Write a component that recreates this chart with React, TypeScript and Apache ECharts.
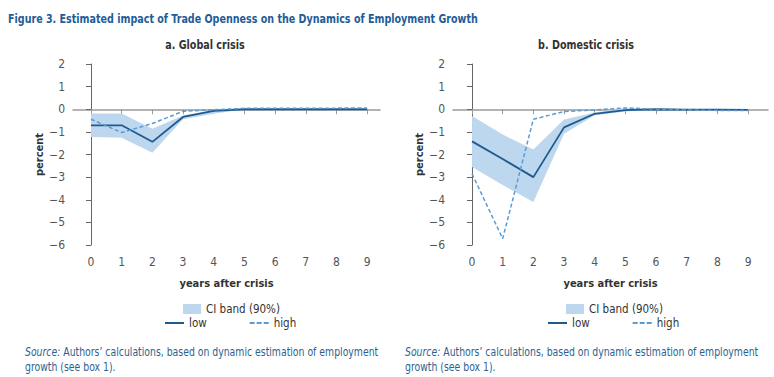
import React, { useEffect, useRef } from 'react';
import * as echarts from 'echarts';

// ---- data ----
const years = [0, 1, 2, 3, 4, 5, 6, 7, 8, 9];

const globalLow = [-0.71, -0.71, -1.44, -0.34, -0.07, 0, 0, 0, 0, 0];
const globalHigh = [-0.44, -1.03, -0.63, -0.09, -0.02, 0.04, 0.04, 0.04, 0.05, 0.06];
const globalCIUpper = [-0.19, -0.19, -0.86, -0.28, -0.03, 0, 0, 0, 0, 0];
const globalCILower = [-1.23, -1.26, -1.92, -0.44, -0.2, 0, 0, 0, 0, 0];

const domesticLow = [-1.42, -2.2, -3.0, -0.8, -0.2, -0.04, 0, -0.02, -0.02, -0.03];
const domesticHigh = [-2.85, -5.72, -0.44, -0.1, -0.03, 0.06, 0, -0.03, -0.05, -0.06];
const domesticCIUpper = [-0.3, -1.12, -1.78, -0.45, -0.14, 0.06, 0, 0, 0, 0];
const domesticCILower = [-2.55, -3.35, -4.1, -1.08, -0.27, -0.1, 0, 0, 0, 0];

const titleText = 'Figure 3. Estimated impact of Trade Openness on the Dynamics of Employment Growth';
const panelTitles = ['a. Global crisis', 'b. Domestic crisis'];
const xAxisName = 'years after crisis';
const yAxisName = 'percent';
const bandName = 'CI band (90%)';
const lowName = 'low';
const highName = 'high';
const sourceText = '{i|Source:} Authors\u2019 calculations, based on dynamic estimation of employment\ngrowth (see box 1).';

// ---- styles ----
const FONT = "'DejaVu Sans Condensed', 'Liberation Sans', sans-serif";
const BAND = '#bdd7ee';
const LOW = '#1f5a8f';
const HIGH = '#5b9bd5';
const BLUE_TEXT = '#1f5c99';
const SRC_TEXT = '#2e5f8f';

const ICON_SOLID = 'path://M0,0H19V2H0Z';
const ICON_DASH = 'path://M0,0H5V2H0ZM7,0H12V2H7ZM14,0H19V2H14Z';

const fmtMinus = (v: number) => (v < 0 ? '\u2212' + Math.abs(v) : String(v));

const panels = [
  { low: globalLow, high: globalHigh, up: globalCIUpper, lo: globalCILower, left: 73, width: 307, min: -0.587, max: 9.42, titleX: 205, legendBand: 183, legendLines: 165, srcX: 25 },
  { low: domesticLow, high: domesticHigh, up: domesticCIUpper, lo: domesticCILower, left: 453, width: 315, min: -0.62, max: 9.65, titleX: 586, legendBand: 566, legendLines: 548, srcX: 405 },
];

function buildOption() {
  const grid: any[] = [];
  const xAxis: any[] = [];
  const yAxis: any[] = [];
  const series: any[] = [];
  const legend: any[] = [];
  const graphic: any[] = [
    {
      type: 'text', x: 8, y: 12, scaleX: 0.85,
      style: { text: titleText, fontFamily: FONT, fontSize: 12.5, fontWeight: 'bold', fill: BLUE_TEXT },
    },
  ];

  panels.forEach((p, idx) => {
    grid.push({ left: p.left, top: 64, width: p.width, height: 181, containLabel: false });
    // zero line with ticks
    xAxis.push({
      type: 'value', gridIndex: idx, min: p.min, max: p.max,
      splitLine: { show: false },
      axisLine: { show: true, onZero: true, lineStyle: { color: '#9a9a9a', width: 1.5 } },
      axisTick: { show: true, length: 5, customValues: years, lineStyle: { color: '#9a9a9a', width: 1 } },
      axisLabel: { show: false },
    });
    // bottom labels
    xAxis.push({
      type: 'value', gridIndex: idx, min: p.min, max: p.max, position: 'bottom',
      splitLine: { show: false },
      axisLine: { show: false, onZero: false },
      axisTick: { show: false },
      axisLabel: {
        show: true, customValues: years, margin: 11,
        fontFamily: FONT, fontSize: 12, color: '#555',
        formatter: (v: number) => (Number.isInteger(v) ? String(v) : ''),
      },
      name: xAxisName, nameLocation: 'middle', nameGap: 33,
      nameTextStyle: { fontFamily: FONT, fontSize: 11, fontWeight: 'bold', color: '#333' },
    });
    yAxis.push({
      type: 'value', gridIndex: idx, min: -6, max: 2, interval: 1,
      splitLine: { show: false },
      axisLine: { show: true, lineStyle: { color: '#666', width: 1 } },
      axisTick: { show: true, length: 5, lineStyle: { color: '#666' } },
      axisLabel: { margin: 8, fontFamily: FONT, fontSize: 12, color: '#555', formatter: fmtMinus },
      name: yAxisName, nameLocation: 'middle', nameGap: 28, nameRotate: 90,
      nameTextStyle: { fontFamily: FONT, fontSize: 11, fontWeight: 'bold', color: '#333' },
    });

    const xi = idx * 2;
    series.push({
      type: 'custom', name: bandName, xAxisIndex: xi, yAxisIndex: idx,
      coordinateSystem: 'cartesian2d',
      data: years.map((x, i) => [x, p.up[i], p.lo[i]]),
      encode: { x: 0, y: [1, 2] },
      silent: true, z: 1, itemStyle: { color: BAND },
      renderItem: (params: any, api: any) => {
        if (params.dataIndex !== 0) return null;
        const pts: number[][] = [];
        for (let i = 0; i < years.length; i++) pts.push(api.coord([years[i], p.up[i]]));
        for (let i = years.length - 1; i >= 0; i--) pts.push(api.coord([years[i], p.lo[i]]));
        return { type: 'polygon', shape: { points: pts }, style: { fill: BAND } };
      },
    });
    series.push({
      type: 'line', name: lowName, xAxisIndex: xi, yAxisIndex: idx,
      data: years.map((x, i) => [x, p.low[i]]), symbol: 'none', silent: true,
      lineStyle: { color: LOW, width: 1.8 }, itemStyle: { color: LOW }, z: 3,
    });
    series.push({
      type: 'line', name: highName, xAxisIndex: xi, yAxisIndex: idx,
      data: years.map((x, i) => [x, p.high[i]]), symbol: 'none', silent: true,
      lineStyle: { color: HIGH, width: 1.5, type: [4, 2.5] }, itemStyle: { color: HIGH }, z: 3,
    });

    legend.push({
      left: p.legendBand, top: 303, padding: 0, selectedMode: false,
      itemWidth: 18, itemHeight: 10, itemGap: 10,
      data: [{ name: bandName, icon: 'rect', itemStyle: { color: BAND } }],
      textStyle: { fontFamily: FONT, fontSize: 11.5, color: '#333' },
    });
    legend.push({
      left: p.legendLines, top: 317, padding: 0, selectedMode: false,
      itemWidth: 19, itemHeight: 2, itemGap: 43,
      data: [
        { name: lowName, icon: ICON_SOLID, itemStyle: { color: LOW } },
        { name: highName, icon: ICON_DASH, itemStyle: { color: HIGH } },
      ],
      textStyle: { fontFamily: FONT, fontSize: 11.5, color: '#333' },
    });

    graphic.push({
      type: 'text', x: p.titleX, y: 38, scaleX: 0.82,
      style: { text: panelTitles[idx], align: 'center', fontFamily: FONT, fontSize: 13, fontWeight: 'bold', fill: '#333' },
    });

    graphic.push({
      type: 'text', x: p.srcX, y: 345, scaleX: 0.9,
      style: {
        text: sourceText, fontFamily: FONT, fontSize: 11.5, lineHeight: 15, fill: SRC_TEXT,
        rich: { i: { fontStyle: 'italic', fontFamily: FONT, fontSize: 11.5, fill: SRC_TEXT } },
      },
    });
  });

  return { animation: false, backgroundColor: '#fff', grid, xAxis, yAxis, series, legend, graphic };
}

export default function App() {
  const ref = useRef<HTMLDivElement>(null);
  useEffect(() => {
    if (!ref.current) return;
    const chart = echarts.init(ref.current, undefined, { renderer: 'svg' });
    chart.setOption(buildOption() as any);
    return () => chart.dispose();
  }, []);
  return <div ref={ref} style={{ position: 'absolute', left: 0, top: 0, width: 774, height: 377 }} />;
}
